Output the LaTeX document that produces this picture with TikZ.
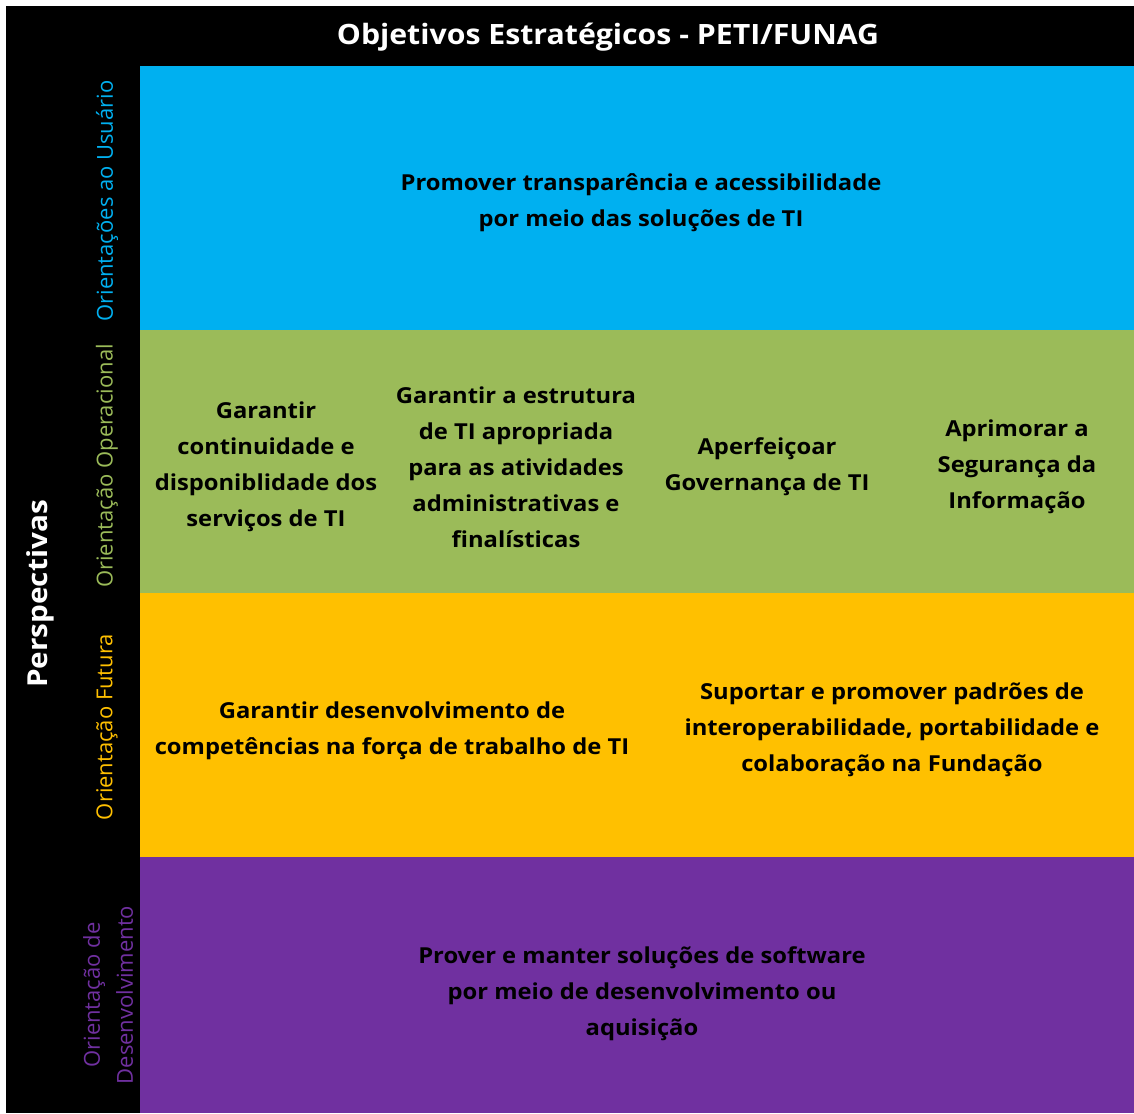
\documentclass[tikz,border=0pt]{standalone}
\usepackage{fontspec}
\setmainfont{Open Sans}
\newfontfamily\widefont{Open Sans}[FakeStretch=1.08]
\definecolor{usercol}{HTML}{00B0F0}
\definecolor{opercol}{HTML}{9BBB59}
\definecolor{futcol}{HTML}{FFC000}
\definecolor{devcol}{HTML}{7030A0}

\begin{document}
\begin{tikzpicture}[
  x=1pt, y=-1pt,
  head/.style={
    font=\widefont\bfseries\fontsize{28}{34}\selectfont, text=white, inner sep=0pt
  },
  goal/.style={
    font=\widefont\bfseries\fontsize{22}{36}\selectfont, align=center, text=black, inner sep=0pt
  },
  persp/.style={
    rotate=90, font=\fontsize{22}{33}\selectfont, align=center, inner sep=0pt
  },
]

% ---------------------------------------------------------------
% Geometry: pixel grid, origin top-left, bands from x=140 to 1134
% ---------------------------------------------------------------
\fill[white] (0,0) rectangle (1134,1113);
\fill[black] (6,6) rectangle (1134,1113);

% ===== Colour bands, one per perspective =====
\foreach \c/\top/\bot in {usercol/66/330, opercol/330/593, futcol/593/857, devcol/857/1113}{
  \fill[\c] (140,\top) rectangle (1134,\bot);
}

% ===== Headings =====
\node[head] (title) at (608,37) {Objetivos Estratégicos - PETI/FUNAG};
\node[head, rotate=90, font=\widefont\bfseries\fontsize{27.5}{33}\selectfont]
  (persp) at (40,594) {Perspectivas};

% ===== Perspective labels (left column) =====
\node[persp, text=usercol] (puser) at (107,201) {Orientações ao Usuário};
\node[persp, text=opercol] (poper) at (107,466) {Orientação Operacional};
\node[persp, text=futcol]  (pfut)  at (107,727) {Orientação Futura};
\node[persp, text=devcol]  (pdev)  at (108,995) {Orientação de\\Desenvolvimento};

% ===== Objectives =====
\node[goal] (user1) at (641,203)
  {Promover transparência e acessibilidade\\por meio das soluções de TI};

\node[goal] (oper1) at (266,467)
  {Garantir\\continuidade e\\disponiblidade dos\\serviços de TI};
\node[goal] (oper2) at (516,467)
  {Garantir a estrutura\\de TI apropriada\\para as atividades\\administrativas e\\finalísticas};
\node[goal] (oper3) at (767,467) {Aperfeiçoar\\Governança de TI};
\node[goal] (oper4) at (1017,467) {Aprimorar a\\Segurança da\\Informação};

\node[goal] (fut1) at (392,731)
  {Garantir desenvolvimento de\\competências na força de trabalho de TI};
\node[goal] (fut2) at (892,730)
  {Suportar e promover padrões de\\interoperabilidade, portabilidade e\\colaboração na Fundação};

\node[goal] (dev1) at (642,994)
  {Prover e manter soluções de software\\por meio de desenvolvimento ou\\aquisição};

\end{tikzpicture}
\end{document}
